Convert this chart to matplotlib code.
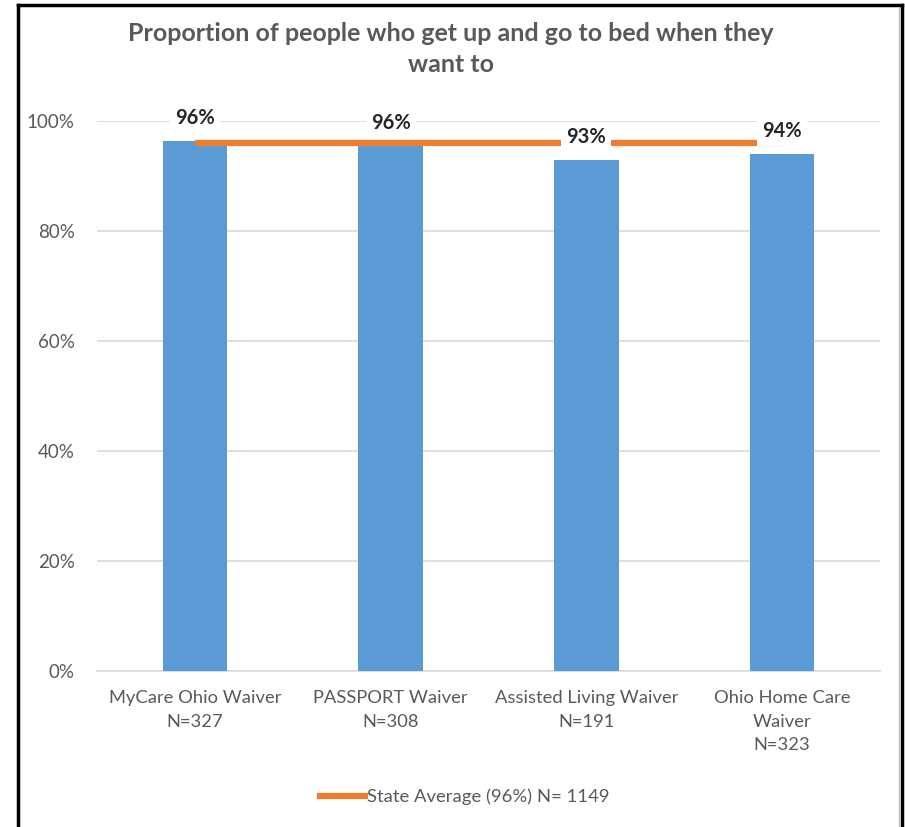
import matplotlib
matplotlib.use("Agg")
import matplotlib.pyplot as plt
from matplotlib.lines import Line2D

plt.rcParams['font.family'] = ['Lato', 'DejaVu Sans']

categories = ["MyCare Ohio Waiver\nN=327", "PASSPORT Waiver\nN=308",
              "Assisted Living Waiver\nN=191", "Ohio Home Care\nWaiver\nN=323"]
values = [0.964, 0.955, 0.929, 0.940]
labels = ["96%", "96%", "93%", "94%"]
state_avg = 0.96
state_label = "State Average (96%) N= 1149"
title = "Proportion of people who get up and go to bed when they\nwant to"
yticks = [0, 0.2, 0.4, 0.6, 0.8, 1.0]
ytick_labels = ["0%", "20%", "40%", "60%", "80%", "100%"]

W, H = 905, 827
fig = plt.figure(figsize=(W / 100, H / 100), dpi=100)
ax = fig.add_axes([97 / W, 1 - 671 / H, (880 - 97) / W, (671 - 121) / H])

gray = "#595959"
x = list(range(len(categories)))
ax.bar(x, values, width=0.33, color="#5B9BD5", zorder=2)
ax.plot([x[0], x[-1]], [state_avg] * 2, color="#ED7D31", lw=4.5,
        solid_capstyle="butt", zorder=3)

for xi, v, lab in zip(x, values, labels):
    ax.annotate(lab, (xi, v), xytext=(0, 9.5), textcoords="offset points",
                ha="center", va="bottom", fontsize=14.5, fontweight="bold",
                color="#262626", zorder=5,
                bbox=dict(boxstyle="square,pad=0.25", fc="white", ec="none"))

ax.set_xlim(-0.5, len(categories) - 0.5)
ax.set_ylim(0, 1.0)
ax.set_yticks(yticks)
ax.set_yticklabels(ytick_labels, fontsize=13.5, color=gray)
ax.set_xticks(x)
ax.set_xticklabels(categories, fontsize=13.2, color=gray, linespacing=1.55)
ax.tick_params(axis="both", length=0)
ax.tick_params(axis="y", pad=16)
ax.tick_params(axis="x", pad=14)
ax.yaxis.grid(True, color="#D9D9D9", lw=1.2, zorder=0)
ax.set_axisbelow(True)
for s in ["top", "right", "left"]:
    ax.spines[s].set_visible(False)
ax.spines["bottom"].set_color("#D9D9D9")
ax.spines["bottom"].set_linewidth(1.2)
ax.spines["bottom"].set_zorder(1)

fig.text(451 / W, 1 - 49 / H, title, ha="center", va="center",
         fontsize=18, fontweight="bold", color=gray, linespacing=1.4)

handle = Line2D([], [], color="#ED7D31", lw=4.5)
fig.legend([handle], [state_label], loc="center", bbox_to_anchor=(465 / W, 1 - 797 / H),
           frameon=False, fontsize=13.3, labelcolor=gray, handlelength=2.4,
           handletextpad=0.15)

# chart border
fig.add_artist(Line2D([18 / W, 18 / W], [0, 1 - 5 / H], color="black", lw=2.5,
                      transform=fig.transFigure))
fig.add_artist(Line2D([18 / W, 902 / W], [1 - 5 / H, 1 - 5 / H], color="black", lw=2.5,
                      transform=fig.transFigure))
fig.add_artist(Line2D([902 / W, 902 / W], [0, 1 - 5 / H], color="black", lw=2.5,
                      transform=fig.transFigure))
fig.add_artist(Line2D([898.5 / W, 898.5 / W], [0, 1 - 8 / H], color="#BFBFBF", lw=1,
                      transform=fig.transFigure))

fig.savefig("out.png", dpi=100)
